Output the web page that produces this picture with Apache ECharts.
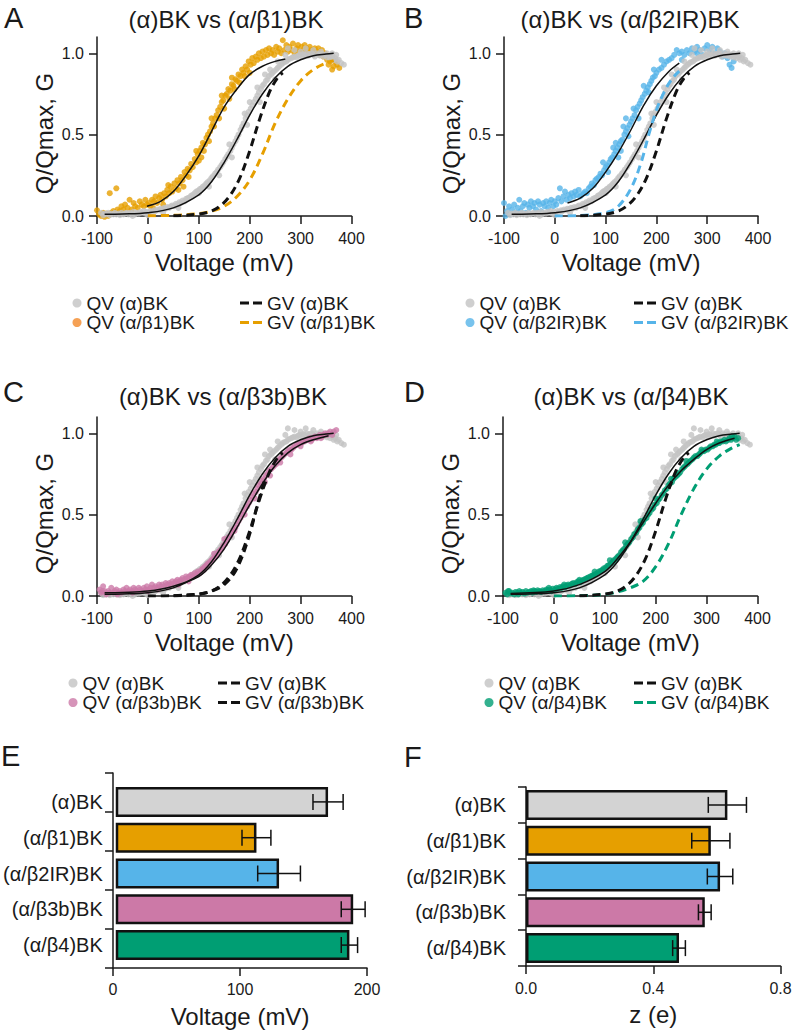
<!DOCTYPE html>
<html><head><meta charset="utf-8">
<script src="https://cdn.jsdelivr.net/npm/echarts@6/dist/echarts.min.js"></script>
<style>html,body{margin:0;padding:0;background:#fff}#chart{width:796px;height:1033px}</style>
</head><body><div id="chart"></div>
<script>
// ---------------- DATA ----------------
// QV scatter, (alpha)BK  [mV, Q/Qmax]
const qvAlpha = [[-92,0.02],[-88,0.005],[-85,0.015],[-82,0.01],[-78,0.02],[-75,0.005],[-72,0.015],[-68,0.01],[-65,0.02],[-62,0.01],[-58,0.015],[-55,0.005],[-52,0.02],[-48,0.01],[-45,0.015],[-42,0.02],[-38,0.01],[-35,0.02],[-32,0.015],[-28,0.025],[-25,0.01],[-22,0.02],[-18,0.015],[-15,0.025],[-12,0.02],[-8,0.03],[-5,0.015],[-2,0.025],[2,0.02],[5,0.03],[8,0.025],[12,0.035],[15,0.03],[18,0.04],[22,0.035],[25,0.045],[28,0.04],[32,0.05],[35,0.045],[38,0.055],[42,0.05],[45,0.06],[48,0.065],[52,0.06],[55,0.075],[58,0.07],[62,0.085],[65,0.08],[68,0.095],[72,0.09],[75,0.105],[78,0.11],[82,0.115],[85,0.125],[88,0.13],[92,0.14],[95,0.15],[98,0.155],[102,0.165],[105,0.17],[108,0.18],[112,0.19],[115,0.2],[118,0.21],[122,0.22],[125,0.235],[128,0.245],[132,0.26],[135,0.27],[138,0.285],[142,0.3],[145,0.315],[148,0.33],[152,0.35],[155,0.365],[158,0.38],[162,0.4],[165,0.42],[168,0.44],[172,0.46],[175,0.48],[178,0.5],[182,0.53],[185,0.55],[188,0.57],[192,0.6],[195,0.62],[198,0.64],[202,0.66],[205,0.68],[208,0.7],[212,0.72],[215,0.74],[218,0.76],[222,0.78],[225,0.8],[228,0.81],[232,0.83],[235,0.84],[238,0.86],[242,0.87],[245,0.88],[248,0.89],[252,0.9],[255,0.91],[258,0.92],[262,0.93],[265,0.94],[268,0.945],[272,0.95],[275,0.96],[278,0.965],[282,0.97],[285,0.975],[288,0.98],[292,0.975],[295,0.985],[298,0.99],[302,0.98],[305,0.995],[308,0.99],[312,1.0],[315,0.985],[318,0.995],[322,1.0],[325,0.99],[328,0.98],[332,1.0],[335,0.99],[338,0.985],[342,0.995],[345,0.98],[348,0.99],[352,0.975],[355,0.985],[358,0.97],[362,0.98],[365,0.96],[368,0.97],[372,0.95],[375,0.96],[380,0.94],[385,0.93],[160,0.44],[190,0.63],[200,0.7],[215,0.79],[230,0.87],[240,0.9],[255,0.95],[270,0.99],[275,1.03],[288,1.02],[300,1.01],[310,1.03],[325,1.02],[340,1.01],[352,1.0],[362,1.0],[370,0.99],[165,0.36],[195,0.56],[220,0.7],[250,0.84],[140,0.25],[120,0.18],[100,0.14],[60,0.05],[30,0.02],[0,0.005],[-30,0.0]];

const qvBeta1 = [[-100,0.035],[-96,0.01],[-92,0.0],[-88,0.02],[-85,-0.005],[-82,0.015],[-78,0.0],[-75,0.14],[-72,0.02],[-68,0.03],[-62,0.17],[-60,0.04],[-55,0.03],[-52,0.06],[-48,0.04],[-45,0.07],[-40,0.05],[-36,0.1],[-32,0.04],[-28,0.08],[-25,0.06],[-20,0.05],[-16,0.09],[-12,0.07],[-8,0.06],[-5,0.1],[-2,0.07],[2,0.08],[5,0.06],[8,0.1],[12,0.09],[15,0.12],[18,0.08],[22,0.11],[25,0.13],[28,0.1],[32,0.14],[35,0.12],[38,0.16],[42,0.14],[45,0.18],[48,0.15],[52,0.2],[55,0.17],[58,0.22],[62,0.2],[65,0.24],[68,0.22],[72,0.27],[75,0.25],[78,0.29],[82,0.28],[85,0.32],[88,0.3],[92,0.35],[95,0.33],[98,0.38],[102,0.4],[105,0.42],[108,0.45],[112,0.44],[115,0.48],[118,0.5],[122,0.52],[125,0.55],[128,0.57],[132,0.6],[135,0.62],[138,0.65],[142,0.67],[145,0.7],[148,0.71],[152,0.74],[155,0.75],[158,0.78],[162,0.77],[165,0.81],[168,0.8],[172,0.84],[175,0.83],[178,0.87],[182,0.86],[185,0.9],[188,0.88],[192,0.92],[195,0.9],[198,0.95],[202,0.93],[205,0.97],[208,0.94],[212,0.98],[215,0.96],[218,1.0],[222,0.97],[225,1.01],[228,0.98],[232,1.02],[235,0.99],[238,1.03],[242,1.0],[245,1.02],[248,0.99],[252,1.04],[255,1.01],[258,1.03],[262,1.0],[265,1.08],[268,1.02],[272,1.05],[275,1.01],[278,1.04],[282,1.02],[285,1.06],[288,1.0],[292,1.03],[295,1.05],[298,1.01],[302,1.04],[305,1.02],[308,1.05],[312,1.03],[315,1.01],[318,1.04],[322,1.02],[325,1.0],[328,1.03],[332,1.01],[335,1.03],[338,0.99],[342,1.02],[345,0.98],[348,1.0],[352,0.96],[355,0.93],[358,0.95],[362,0.9],[365,0.92],[368,0.95],[372,0.93],[376,0.91],[100,0.34],[110,0.4],[120,0.46],[130,0.55],[140,0.6],[150,0.66],[160,0.72],[170,0.78],[180,0.82],[190,0.86],[200,0.88],[95,0.4],[105,0.36],[125,0.6],[145,0.74],[165,0.85],[60,0.16],[70,0.18],[80,0.24],[40,0.19],[30,0.07],[10,0.05]];

const qvBeta2 = [[-100,0.08],[-97,0.0],[-94,0.03],[-90,0.06],[-87,0.01],[-84,0.04],[-80,0.07],[-77,0.02],[-73,0.05],[-70,0.1],[-67,0.03],[-63,0.06],[-60,0.08],[-57,0.02],[-53,0.07],[-50,0.05],[-47,0.09],[-43,0.06],[-40,0.08],[-37,0.04],[-33,0.09],[-30,0.07],[-27,0.03],[-23,0.08],[-20,0.06],[-17,0.09],[-13,0.05],[-10,0.08],[-7,0.1],[-3,0.06],[0,0.09],[3,0.07],[7,0.11],[10,0.17],[13,0.09],[17,0.12],[20,0.15],[23,0.1],[27,0.13],[30,0.11],[33,0.14],[37,0.12],[40,0.15],[43,0.13],[47,0.16],[50,0.12],[53,0.13],[57,0.14],[60,0.15],[63,0.14],[67,0.17],[70,0.18],[73,0.2],[77,0.19],[80,0.22],[83,0.23],[87,0.24],[90,0.26],[93,0.25],[97,0.28],[100,0.3],[103,0.31],[107,0.33],[110,0.35],[113,0.36],[117,0.38],[120,0.4],[123,0.42],[127,0.44],[130,0.46],[133,0.47],[137,0.5],[140,0.52],[143,0.54],[147,0.56],[150,0.58],[153,0.6],[157,0.62],[160,0.65],[163,0.67],[167,0.69],[170,0.71],[173,0.73],[177,0.75],[180,0.77],[183,0.79],[187,0.81],[190,0.83],[193,0.85],[197,0.86],[200,0.88],[205,0.9],[210,0.91],[215,0.93],[220,0.95],[225,0.96],[230,0.97],[235,0.99],[240,1.02],[245,1.0],[250,1.01],[255,0.99],[260,1.02],[265,1.0],[270,1.03],[275,1.01],[280,1.0],[285,1.02],[290,0.99],[295,1.03],[300,1.05],[305,1.02],[310,1.04],[315,1.0],[320,1.03],[325,1.01],[330,0.98],[335,1.0],[340,0.97],[344,0.93],[348,0.91],[352,0.95],[95,0.33],[105,0.27],[115,0.42],[125,0.36],[135,0.55],[145,0.49],[155,0.66],[165,0.6],[175,0.8],[120,0.45],[130,0.4],[140,0.6],[185,0.76],[195,0.9],[210,0.96],[250,0.96],[280,1.04]];

const qvBeta3 = [[-95,0.04],[-92,0.02],[-88,0.06],[-85,0.03],[-82,0.01],[-78,0.03],[-75,0.02],[-72,0.05],[-68,0.02],[-65,0.03],[-62,0.04],[-58,0.02],[-55,0.03],[-52,0.02],[-48,0.04],[-45,0.03],[-42,0.05],[-38,0.03],[-35,0.04],[-32,0.03],[-28,0.05],[-25,0.04],[-22,0.03],[-18,0.05],[-15,0.04],[-12,0.03],[-8,0.05],[-5,0.04],[-2,0.06],[2,0.04],[5,0.05],[8,0.07],[12,0.05],[15,0.06],[18,0.05],[22,0.07],[25,0.06],[28,0.07],[32,0.06],[35,0.08],[38,0.07],[42,0.08],[45,0.07],[48,0.09],[52,0.08],[55,0.09],[58,0.1],[62,0.09],[65,0.1],[68,0.11],[72,0.1],[75,0.12],[78,0.11],[82,0.12],[85,0.13],[88,0.12],[92,0.14],[95,0.13],[98,0.15],[102,0.14],[105,0.16],[108,0.17],[112,0.18],[115,0.19],[118,0.2],[122,0.21],[125,0.22],[128,0.23],[132,0.24],[135,0.25],[138,0.27],[142,0.28],[145,0.29],[148,0.31],[152,0.32],[155,0.34],[158,0.36],[162,0.37],[165,0.39],[168,0.41],[172,0.42],[175,0.44],[178,0.46],[182,0.48],[185,0.5],[188,0.52],[192,0.54],[195,0.55],[198,0.57],[202,0.59],[205,0.61],[208,0.63],[212,0.64],[215,0.66],[218,0.68],[222,0.69],[225,0.71],[228,0.72],[232,0.74],[235,0.75],[238,0.77],[242,0.78],[245,0.79],[248,0.8],[252,0.81],[255,0.83],[258,0.84],[262,0.85],[265,0.86],[268,0.87],[272,0.88],[275,0.89],[278,0.9],[282,0.9],[285,0.91],[288,0.92],[292,0.93],[295,0.93],[298,0.94],[302,0.94],[305,0.95],[308,0.95],[312,0.96],[315,0.96],[318,0.97],[322,0.96],[325,0.97],[328,0.98],[332,0.97],[335,0.98],[338,0.99],[342,0.98],[345,0.99],[348,1.0],[352,0.99],[355,1.0],[358,1.01],[362,0.99],[365,1.01],[370,1.02],[230,0.7],[240,0.74],[210,0.6],[190,0.5],[170,0.4],[150,0.35],[130,0.26],[110,0.16],[260,0.82],[280,0.87],[300,0.92],[320,0.95],[340,0.97],[-90,0.03],[-60,0.01],[-30,0.02],[0,0.03],[20,0.04],[40,0.06],[60,0.07],[80,0.09]];

const qvBeta4 = [[-95,0.02],[-92,0.01],[-88,0.03],[-85,0.015],[-82,0.02],[-78,0.01],[-75,0.025],[-72,0.02],[-68,0.03],[-65,0.02],[-62,0.025],[-58,0.015],[-55,0.03],[-52,0.02],[-48,0.025],[-45,0.03],[-42,0.02],[-38,0.03],[-35,0.025],[-32,0.035],[-28,0.03],[-25,0.025],[-22,0.035],[-18,0.03],[-15,0.04],[-12,0.035],[-8,0.04],[-5,0.03],[-2,0.045],[2,0.04],[5,0.05],[8,0.045],[12,0.055],[15,0.05],[18,0.06],[22,0.055],[25,0.065],[28,0.07],[32,0.065],[35,0.075],[38,0.08],[42,0.075],[45,0.085],[48,0.09],[52,0.085],[55,0.095],[58,0.1],[62,0.105],[65,0.11],[68,0.115],[72,0.12],[75,0.125],[78,0.13],[82,0.135],[85,0.14],[88,0.15],[92,0.155],[95,0.16],[98,0.17],[102,0.175],[105,0.185],[108,0.19],[112,0.2],[115,0.21],[118,0.22],[122,0.23],[125,0.24],[128,0.25],[132,0.27],[135,0.28],[138,0.29],[142,0.31],[145,0.32],[148,0.33],[152,0.35],[155,0.36],[158,0.38],[162,0.39],[165,0.41],[168,0.42],[172,0.44],[175,0.45],[178,0.47],[182,0.48],[185,0.5],[188,0.51],[192,0.53],[195,0.54],[198,0.56],[202,0.57],[205,0.59],[208,0.6],[212,0.62],[215,0.63],[218,0.65],[222,0.66],[225,0.68],[228,0.69],[232,0.7],[235,0.72],[238,0.73],[242,0.74],[245,0.75],[248,0.76],[252,0.78],[255,0.79],[258,0.8],[262,0.81],[265,0.82],[268,0.83],[272,0.84],[275,0.85],[278,0.86],[282,0.86],[285,0.87],[288,0.88],[292,0.89],[295,0.89],[298,0.9],[302,0.9],[305,0.91],[308,0.92],[312,0.92],[315,0.93],[318,0.93],[322,0.94],[325,0.94],[328,0.95],[332,0.95],[335,0.96],[338,0.95],[342,0.96],[345,0.97],[348,0.96],[352,0.97],[355,0.98],[358,0.96],[362,0.97],[-90,0.03],[-70,0.01],[-40,0.035],[-10,0.05],[20,0.07],[50,0.1],[80,0.15],[110,0.22],[140,0.33],[170,0.46],[200,0.6],[230,0.72],[260,0.83],[290,0.9],[320,0.95],[350,0.98]];

// QV fits (solid black)
const fitAlpha = [[-85,0.01],[-50,0.012],[0,0.02],[50,0.05],[100,0.13],[125,0.21],[150,0.33],[175,0.47],[200,0.62],[225,0.75],[250,0.85],[275,0.92],[300,0.96],[325,0.985],[350,0.995],[365,1.0]];
const fitBeta1 = [[-2,0.06],[25,0.09],[50,0.15],[75,0.25],[100,0.37],[125,0.52],[150,0.67],[175,0.78],[200,0.87],[225,0.92],[250,0.95],[270,0.965]];
const fitBeta2 = [[25,0.08],[50,0.11],[75,0.17],[100,0.27],[125,0.39],[150,0.53],[175,0.68],[200,0.8],[225,0.89],[245,0.94]];
const fitBeta3 = [[-85,0.02],[-50,0.022],[0,0.03],[50,0.06],[100,0.12],[125,0.19],[150,0.29],[175,0.42],[200,0.56],[225,0.69],[250,0.8],[275,0.88],[300,0.93],[325,0.96],[355,0.985]];
const fitBeta4 = [[-85,0.015],[0,0.03],[50,0.07],[100,0.15],[125,0.23],[150,0.33],[175,0.45],[200,0.57],[225,0.68],[250,0.77],[275,0.84],[300,0.9],[325,0.94],[355,0.97]];

// GV curves (dashed)
const gvAlpha = [[50,0.002],[75,0.005],[100,0.012],[120,0.025],[140,0.057],[160,0.12],[180,0.23],[200,0.4],[220,0.6],[240,0.77],[255,0.85],[265,0.88]];
const gvBeta1 = [[0,0.002],[50,0.004],[100,0.015],[125,0.03],[150,0.06],[175,0.12],[200,0.22],[225,0.38],[250,0.57],[275,0.72],[300,0.83],[325,0.9],[350,0.94],[365,0.955]];
const gvBeta2 = [[0,0.0],[50,0.003],[100,0.02],[125,0.06],[150,0.17],[170,0.33],[185,0.5],[200,0.65],[215,0.76],[230,0.84],[245,0.89]];
const gvBeta3 = [[0,0.0],[50,0.002],[100,0.012],[125,0.03],[150,0.07],[175,0.17],[200,0.38],[215,0.56],[230,0.72]];
const gvBeta4 = [[0,0.0],[50,0.002],[100,0.01],[125,0.025],[150,0.05],[175,0.09],[200,0.18],[225,0.32],[250,0.5],[275,0.66],[300,0.78],[325,0.86],[350,0.91],[365,0.93]];

// Bar panels
const barCategories = ['(α)BK','(α/β1)BK','(α/β2IR)BK','(α/β3b)BK','(α/β4)BK'];
const vHalf = [169, 112, 130, 189, 186];
const vHalfErr = [12, 11.5, 17, 9.5, 6.5];
const zCharge = [0.633, 0.581, 0.61, 0.562, 0.481];
const zChargeErr = [0.06, 0.06, 0.04, 0.02, 0.02];

// ---------------- STYLE ----------------
const FONT = '"Liberation Sans", Arial, Helvetica, sans-serif';
const INK = '#1a1a1a';
const C_GRAY = '#c3c3c3', C_OR = '#e69f00', C_BL = '#56b4e9', C_PK = '#cc79a7', C_GR = '#009e73';
const barColors = ['#d3d3d3', C_OR, C_BL, C_PK, C_GR];

const panels = [
  {grid:{left:97, top:37, width:254.5, height:179}, qv:qvBeta1, fit:fitBeta1, gv:gvBeta1, qvName:'QV (α/β1)BK', gvName:'GV (α/β1)BK', color:C_OR, gvColor:C_OR, grayOnTop:true},
  {grid:{left:504, top:37, width:254, height:179}, qv:qvBeta2, fit:fitBeta2, gv:gvBeta2, qvName:'QV (α/β2IR)BK', gvName:'GV (α/β2IR)BK', color:C_BL, gvColor:C_BL, grayOnTop:true},
  {grid:{left:97, top:417, width:254.5, height:179}, qv:qvBeta3, fit:fitBeta3, gv:gvBeta3, qvName:'QV (α/β3b)BK', gvName:'GV (α/β3b)BK', color:C_PK, gvColor:'#111', grayOnTop:false},
  {grid:{left:503, top:417, width:254.5, height:179}, qv:qvBeta4, fit:fitBeta4, gv:gvBeta4, qvName:'QV (α/β4)BK', gvName:'GV (α/β4)BK', color:C_GR, gvColor:C_GR, grayOnTop:false}
];

const axisLineStyle = {color: INK, width: 1.5};
const grids = [], xAxes = [], yAxes = [], series = [];

panels.forEach((p, i) => {
  grids.push(p.grid);
  xAxes.push({gridIndex:i, type:'value', min:-100, max:400, interval:100,
    name:'Voltage (mV)', nameLocation:'middle', nameGap:34,
    nameTextStyle:{fontSize:24, color:INK, fontFamily:FONT},
    axisLine:{show:true, onZero:false, lineStyle:axisLineStyle},
    axisTick:{show:true, length:8, lineStyle:axisLineStyle},
    axisLabel:{fontSize:16, color:INK, margin:14, fontFamily:FONT},
    splitLine:{show:false}});
  yAxes.push({gridIndex:i, type:'value', min:0, max:1.1,
    name:'Q/Qmax, G', nameLocation:'middle', nameGap:41,
    nameTextStyle:{fontSize:24, color:INK, fontFamily:FONT, padding:[0,14,0,0]},
    axisLine:{show:true, onZero:false, lineStyle:axisLineStyle},
    axisTick:{show:true, length:8, lineStyle:axisLineStyle, customValues:[0,0.5,1]},
    axisLabel:{fontSize:16, color:INK, margin:13, fontFamily:FONT, customValues:[0,0.5,1], formatter:v=>Number(v).toFixed(1)},
    splitLine:{show:false}});
  const grayS = {name:'QV (α)BK', type:'scatter', xAxisIndex:i, yAxisIndex:i, data:qvAlpha, symbolSize:6, clip:false,
    itemStyle:{color:C_GRAY}, z:2, silent:true};
  const colS = {name:p.qvName, type:'scatter', xAxisIndex:i, yAxisIndex:i, data:p.qv, symbolSize:6, clip:false,
    itemStyle:{color:p.color}, z:2, silent:true};
  if (p.grayOnTop) { series.push(colS, grayS); } else { series.push(grayS, colS); }
  const lineBase = {type:'line', xAxisIndex:i, yAxisIndex:i, symbol:'none', showSymbol:false, smooth:0.35, silent:true};
  series.push(Object.assign({}, lineBase, {name:'fitα'+i, data:fitAlpha, lineStyle:{color:'#111', width:1.5}, itemStyle:{color:'#111'}, z:3}));
  series.push(Object.assign({}, lineBase, {name:'fitβ'+i, data:p.fit, lineStyle:{color:'#111', width:1.5}, itemStyle:{color:'#111'}, z:3}));
  series.push(Object.assign({}, lineBase, {name:p.gvName, data:p.gv, lineStyle:{color:p.gvColor, width:3, type:[8,5]}, itemStyle:{color:p.gvColor}, z:4}));
  series.push(Object.assign({}, lineBase, {name:'GV (α)BK', data:gvAlpha, lineStyle:{color:'#111', width:3, type:[8,5]}, itemStyle:{color:'#111'}, z:4}));
});

// E (frame grid 4, bars grid 5), F (grid 6)
grids.push({left:113, top:773, width:254, height:195});
grids.push({left:113, top:784, width:254, height:179});
grids.push({left:526, top:787, width:254.5, height:179});

xAxes.push({gridIndex:4, type:'value', min:0, max:200, interval:100,
  name:'Voltage (mV)', nameLocation:'middle', nameGap:36,
  nameTextStyle:{fontSize:24, color:INK, fontFamily:FONT},
  axisLine:{show:true, onZero:false, lineStyle:axisLineStyle},
  axisTick:{show:true, length:8, lineStyle:axisLineStyle},
  axisLabel:{fontSize:16, color:INK, margin:13, fontFamily:FONT}, splitLine:{show:false}});
yAxes.push({gridIndex:4, type:'category', data:barCategories, inverse:true,
  axisLine:{show:true, onZero:false, lineStyle:axisLineStyle},
  axisTick:{show:true, length:8, lineStyle:axisLineStyle}, axisLabel:{show:false}, splitLine:{show:false}});
xAxes.push({gridIndex:5, type:'value', min:0, max:200, show:false});
yAxes.push({gridIndex:5, type:'category', data:barCategories, inverse:true,
  axisLine:{show:false}, axisTick:{show:false},
  axisLabel:{fontSize:20, color:INK, margin:13, fontFamily:FONT, padding:[0,0,10,0]}, splitLine:{show:false}});
xAxes.push({gridIndex:6, type:'value', min:0, max:0.8, interval:0.4,
  name:'z (e)', nameLocation:'middle', nameGap:36,
  nameTextStyle:{fontSize:24, color:INK, fontFamily:FONT},
  axisLine:{show:true, onZero:false, lineStyle:axisLineStyle},
  axisTick:{show:true, length:8, lineStyle:axisLineStyle},
  axisLabel:{fontSize:16, color:INK, margin:14, fontFamily:FONT, formatter:v=>Number(v).toFixed(1)}, splitLine:{show:false}});
yAxes.push({gridIndex:6, type:'category', data:barCategories, inverse:true,
  axisLine:{show:true, onZero:false, lineStyle:axisLineStyle},
  axisTick:{show:true, length:8, lineStyle:axisLineStyle},
  axisLabel:{fontSize:20, color:INK, margin:20, fontFamily:FONT}, splitLine:{show:false}});

function barSeries(xi, yi, vals) {
  return {type:'bar', xAxisIndex:xi, yAxisIndex:yi, barWidth:30, silent:true, z:2,
    data: vals.map((v, k) => ({value:v, itemStyle:{color:barColors[k]}})),
    itemStyle:{borderColor:'#111', borderWidth:2.5}};
}
function errSeries(xi, yi, vals, errs) {
  return {type:'custom', xAxisIndex:xi, yAxisIndex:yi, silent:true, z:5,
    encode:{x:[1,2], y:0},
    data: vals.map((v, k) => [k, v - errs[k], v + errs[k]]),
    renderItem: (params, api) => {
      const k = api.value(0);
      const lo = api.coord([api.value(1), k]);
      const hi = api.coord([api.value(2), k]);
      const h = 8, st = {stroke:'#111', lineWidth:1.5};
      return {type:'group', children:[
        {type:'line', shape:{x1:lo[0], y1:lo[1], x2:hi[0], y2:hi[1]}, style:st},
        {type:'line', shape:{x1:lo[0], y1:lo[1]-h, x2:lo[0], y2:lo[1]+h}, style:st},
        {type:'line', shape:{x1:hi[0], y1:hi[1]-h, x2:hi[0], y2:hi[1]+h}, style:st}
      ]};
    }};
}
series.push(barSeries(5, 5, vHalf), errSeries(5, 5, vHalf, vHalfErr));
series.push(barSeries(6, 6, zCharge), errSeries(6, 6, zCharge, zChargeErr));

// Legends
const DASH_ICON = 'path://M0,0H9V3H0Z M13,0H22V3H13Z';
const LEG_FS = 19;
function qvLegend(left, top, gap, data) {
  return {orient:'vertical', left, top, padding:0, itemGap:0.5, icon:'circle', itemWidth:9, itemHeight:9,
    itemTextGap:gap, selectedMode:false, textStyle:{fontSize:LEG_FS, color:INK, fontFamily:FONT}, data};
}
function gvLegend(left, top, data) {
  return {orient:'vertical', left, top, padding:0, itemGap:0.5, icon:DASH_ICON, itemWidth:22, itemHeight:3,
    itemTextGap:8, selectedMode:false, textStyle:{fontSize:LEG_FS, color:INK, fontFamily:FONT}, data};
}
const legends = [
  qvLegend(72.5, 293.5, 9, ['QV (α)BK', {name:'QV (α/β1)BK', itemStyle:{color:'#f28a2a'}}]),
  gvLegend(240, 293.5, ['GV (α)BK', 'GV (α/β1)BK']),
  qvLegend(465.5, 293.5, 10.5, ['QV (α)BK', 'QV (α/β2IR)BK']),
  gvLegend(634, 293.5, ['GV (α)BK', 'GV (α/β2IR)BK']),
  qvLegend(68.5, 673.5, 11, ['QV (α)BK', 'QV (α/β3b)BK']),
  gvLegend(218, 673.5, ['GV (α)BK', 'GV (α/β3b)BK']),
  qvLegend(484.5, 673.5, 14.5, ['QV (α)BK', 'QV (α/β4)BK']),
  gvLegend(634, 673.5, ['GV (α)BK', 'GV (α/β4)BK'])
];

// Titles and panel letters
const txt = (text, x, y, size, align) => ({type:'text', x, y, silent:true,
  style:{text, fontSize:size, fontFamily:FONT, fill:INK, align:align || 'left', verticalAlign:'middle'}});
const graphics = [
  txt('A', 4, 18, 29), txt('B', 404, 18, 29), txt('C', 3, 392, 29), txt('D', 404, 392, 29),
  txt('E', 1, 756, 29), txt('F', 404, 757, 29),
  txt('(α)BK vs (α/β1)BK', 226, 19, 24, 'center'),
  txt('(α)BK vs (α/β2IR)BK', 630, 19, 24, 'center'),
  txt('(α)BK vs (α/β3b)BK', 223, 396, 24, 'center'),
  txt('(α)BK vs (α/β4)BK', 631, 396, 24, 'center')
];

const chart = echarts.init(document.getElementById('chart'), null, {renderer:'svg'});
chart.setOption({
  animation:false,
  backgroundColor:'#fff',
  textStyle:{fontFamily:FONT},
  grid:grids, xAxis:xAxes, yAxis:yAxes, series, legend:legends, graphic:graphics
});
</script></body></html>
